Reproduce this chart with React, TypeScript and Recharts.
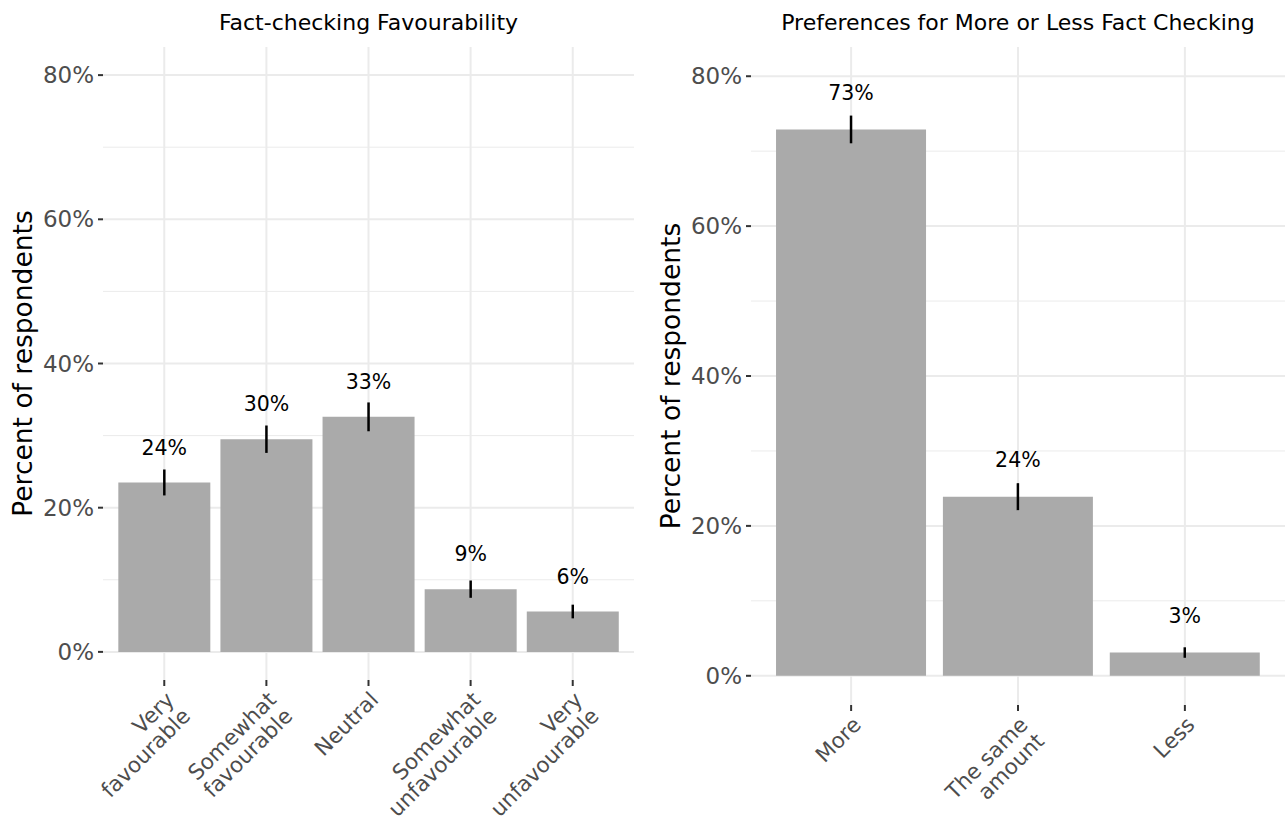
import { BarChart, Bar, XAxis, YAxis, CartesianGrid, ErrorBar, LabelList } from 'recharts'

const FONT = '"DejaVu Sans", sans-serif'

// Fact-checking favourability (percent of respondents, with CI half-widths)
const favourCategories = ['Very\nfavourable', 'Somewhat\nfavourable', 'Neutral', 'Somewhat\nunfavourable', 'Very\nunfavourable']
const favourShares = [23.5, 29.5, 32.6, 8.7, 5.6]
const favourErrors = [1.8, 1.9, 2.0, 1.2, 0.95]

// More or less fact checking
const amountCategories = ['More', 'The same\namount', 'Less']
const amountShares = [72.9, 23.9, 3.1]
const amountErrors = [1.85, 1.8, 0.7]

const majorTicks = [0, 20, 40, 60, 80]
const minorTicks = [10, 30, 50, 70]

const Y_DOMAIN: [number, number] = [-3.9, 83.9]
const PLOT_TOP = 47
const HEIGHT = 823
const GRID = '#ebebeb'
const BAR_FILL = '#aaaaaa'

function CategoryTick({ x, y, payload }: any) {
  const lines = String(payload.value).split('\n')
  return (
    <g transform={`translate(${x - 3},${y - 3}) rotate(-45)`}>
      <text textAnchor="end" fill="#4d4d4d" fontSize={21.5} fontFamily={FONT}>
        {lines.map((line, i) => (
          <tspan key={i} x={0} y={20 + i * 23}>
            {line}
          </tspan>
        ))}
      </text>
    </g>
  )
}

function ShareLabel(props: any) {
  const { x, y, width, height, value } = props
  // sit the label about 4.85 points above the bar top
  const pxPerPoint = height / value
  return (
    <text
      x={x + width / 2}
      y={y - 4.85 * pxPerPoint}
      dy="0.35em"
      textAnchor="middle"
      fontSize={20.5}
      fill="#000"
      fontFamily={FONT}
    >
      {Math.round(value)}%
    </text>
  )
}

interface PanelProps {
  categories: string[]
  shares: number[]
  errors: number[]
  left: number
  width: number
  plotLeft: number
  plotRight: number
  plotBottom: number
}

function Panel({ categories, shares, errors, left, width, plotLeft, plotRight, plotBottom }: PanelProps) {
  const data = categories.map((category, i) => ({ category, share: shares[i], err: errors[i] }))
  const yAxisWidth = 100
  const xAxisHeight = 110
  const plotWidth = plotRight - plotLeft
  const pad = (plotWidth / (categories.length + 0.2)) * 0.1

  return (
    <div style={{ position: 'absolute', left, top: 0 }}>
      <BarChart
        width={width}
        height={HEIGHT}
        data={data}
        barCategoryGap="5%"
        margin={{
          top: PLOT_TOP,
          right: width - plotRight,
          left: plotLeft - yAxisWidth,
          bottom: HEIGHT - plotBottom - xAxisHeight,
        }}
      >
        <CartesianGrid stroke={GRID} strokeWidth={1} horizontalValues={minorTicks} vertical={false} syncWithTicks />
        <CartesianGrid stroke={GRID} strokeWidth={2} syncWithTicks />
        <XAxis
          dataKey="category"
          axisLine={false}
          tickLine={{ stroke: '#333', strokeWidth: 2 }}
          tickSize={6}
          tickMargin={4}
          tick={<CategoryTick />}
          interval={0}
          height={xAxisHeight}
          padding={{ left: pad, right: pad }}
        />
        <YAxis
          type="number"
          domain={Y_DOMAIN}
          allowDataOverflow
          ticks={majorTicks}
          tickFormatter={(v: number) => `${v}%`}
          axisLine={false}
          tickLine={{ stroke: '#333', strokeWidth: 2 }}
          tickSize={5}
          tickMargin={4}
          tick={{ fill: '#4d4d4d', fontSize: 23, fontFamily: FONT }}
          width={yAxisWidth}
        />
        <Bar dataKey="share" fill={BAR_FILL} isAnimationActive={false}>
          <ErrorBar dataKey="err" direction="y" width={0} stroke="#000" strokeWidth={2.5} isAnimationActive={false} />
          <LabelList dataKey="share" content={ShareLabel} />
        </Bar>
      </BarChart>
    </div>
  )
}

export default function App() {
  return (
    <div style={{ position: 'absolute', left: 0, top: 0, width: 1286, height: HEIGHT, background: '#fff', fontFamily: FONT }}>
      <Panel
        categories={favourCategories}
        shares={favourShares}
        errors={favourErrors}
        left={0}
        width={640}
        plotLeft={103}
        plotRight={634}
        plotBottom={680}
      />
      <Panel
        categories={amountCategories}
        shares={amountShares}
        errors={amountErrors}
        left={640}
        width={646}
        plotLeft={111}
        plotRight={645}
        plotBottom={705}
      />
      <svg width={1286} height={HEIGHT} style={{ position: 'absolute', left: 0, top: 0, pointerEvents: 'none' }}>
        <g fontFamily={FONT} fill="#000">
          <text x={368.5} y={30} textAnchor="middle" fontSize={22}>
            Fact-checking Favourability
          </text>
          <text x={1018} y={30} textAnchor="middle" fontSize={22}>
            Preferences for More or Less Fact Checking
          </text>
          <text transform="translate(32,363.5) rotate(-90)" textAnchor="middle" fontSize={26.5}>
            Percent of respondents
          </text>
          <text transform="translate(680,376) rotate(-90)" textAnchor="middle" fontSize={26.5}>
            Percent of respondents
          </text>
        </g>
      </svg>
    </div>
  )
}
